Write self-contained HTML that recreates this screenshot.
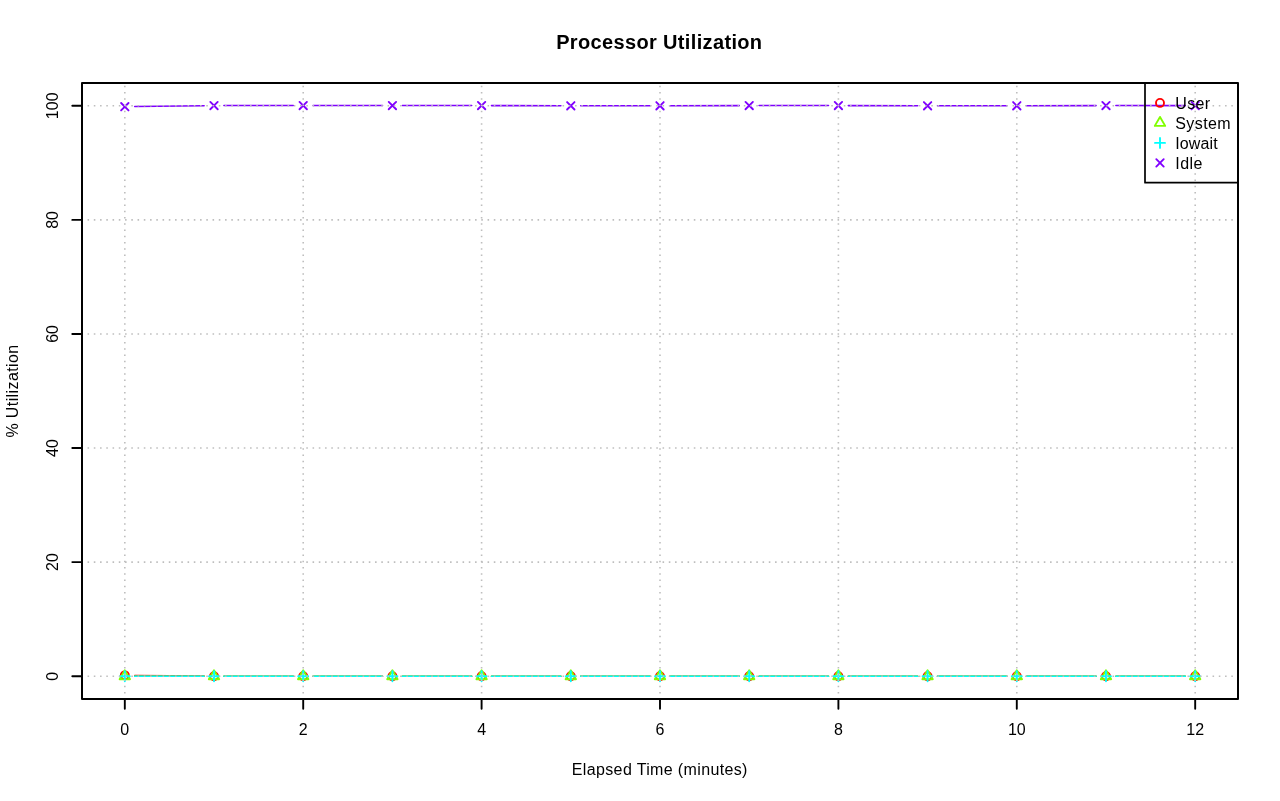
<!DOCTYPE html>
<html><head><meta charset="utf-8"><title>Processor Utilization</title>
<style>html,body{margin:0;padding:0;background:#fff;overflow:hidden}svg{display:block;will-change:transform}</style></head>
<body><svg width="1280" height="801" viewBox="0 0 1280 801"><path d="M134.71 675.42L204.11 676.09M223.91 676.19L293.31 676.19M313.11 676.19L382.51 676.19M402.31 676.19L471.70 676.19M491.50 676.19L560.90 676.19M580.70 676.19L650.10 676.19M669.90 676.19L739.30 676.19M759.10 676.19L828.50 676.19M848.30 676.19L917.69 676.19M937.49 676.19L1006.89 676.19M1026.69 676.19L1096.09 676.19M1115.89 676.19L1185.29 676.19" stroke="#FF0000" stroke-width="1.5625" stroke-linecap="round" fill="none"/>
<circle cx="124.81" cy="675.33" r="4.00" fill="none" stroke="#FF0000" stroke-width="1.9"/>
<circle cx="214.01" cy="676.19" r="4.00" fill="none" stroke="#FF0000" stroke-width="1.9"/>
<circle cx="303.21" cy="676.19" r="4.00" fill="none" stroke="#FF0000" stroke-width="1.9"/>
<circle cx="392.41" cy="676.19" r="4.00" fill="none" stroke="#FF0000" stroke-width="1.9"/>
<circle cx="481.60" cy="676.19" r="4.00" fill="none" stroke="#FF0000" stroke-width="1.9"/>
<circle cx="570.80" cy="676.19" r="4.00" fill="none" stroke="#FF0000" stroke-width="1.9"/>
<circle cx="660.00" cy="676.19" r="4.00" fill="none" stroke="#FF0000" stroke-width="1.9"/>
<circle cx="749.20" cy="676.19" r="4.00" fill="none" stroke="#FF0000" stroke-width="1.9"/>
<circle cx="838.40" cy="676.19" r="4.00" fill="none" stroke="#FF0000" stroke-width="1.9"/>
<circle cx="927.59" cy="676.19" r="4.00" fill="none" stroke="#FF0000" stroke-width="1.9"/>
<circle cx="1016.79" cy="676.19" r="4.00" fill="none" stroke="#FF0000" stroke-width="1.9"/>
<circle cx="1105.99" cy="676.19" r="4.00" fill="none" stroke="#FF0000" stroke-width="1.9"/>
<circle cx="1195.19" cy="676.19" r="4.00" fill="none" stroke="#FF0000" stroke-width="1.9"/>
<path d="M134.71 676.19L204.11 676.19M223.91 676.19L293.31 676.19M313.11 676.19L382.51 676.19M402.31 676.19L471.70 676.19M491.50 676.19L560.90 676.19M580.70 676.19L650.10 676.19M669.90 676.19L739.30 676.19M759.10 676.19L828.50 676.19M848.30 676.19L917.69 676.19M937.49 676.19L1006.89 676.19M1026.69 676.19L1096.09 676.19M1115.89 676.19L1185.29 676.19" stroke="#80FF00" stroke-width="1.5625" stroke-linecap="round" fill="none"/>
<path d="M124.81 670.20L130.00 679.18L119.63 679.18Z" fill="none" stroke="#80FF00" stroke-width="1.9" stroke-linejoin="round"/>
<path d="M214.01 670.20L219.20 679.18L208.83 679.18Z" fill="none" stroke="#80FF00" stroke-width="1.9" stroke-linejoin="round"/>
<path d="M303.21 670.20L308.40 679.18L298.02 679.18Z" fill="none" stroke="#80FF00" stroke-width="1.9" stroke-linejoin="round"/>
<path d="M392.41 670.20L397.59 679.18L387.22 679.18Z" fill="none" stroke="#80FF00" stroke-width="1.9" stroke-linejoin="round"/>
<path d="M481.60 670.20L486.79 679.18L476.42 679.18Z" fill="none" stroke="#80FF00" stroke-width="1.9" stroke-linejoin="round"/>
<path d="M570.80 670.20L575.99 679.18L565.62 679.18Z" fill="none" stroke="#80FF00" stroke-width="1.9" stroke-linejoin="round"/>
<path d="M660.00 670.20L665.19 679.18L654.81 679.18Z" fill="none" stroke="#80FF00" stroke-width="1.9" stroke-linejoin="round"/>
<path d="M749.20 670.20L754.38 679.18L744.01 679.18Z" fill="none" stroke="#80FF00" stroke-width="1.9" stroke-linejoin="round"/>
<path d="M838.40 670.20L843.58 679.18L833.21 679.18Z" fill="none" stroke="#80FF00" stroke-width="1.9" stroke-linejoin="round"/>
<path d="M927.59 670.20L932.78 679.18L922.41 679.18Z" fill="none" stroke="#80FF00" stroke-width="1.9" stroke-linejoin="round"/>
<path d="M1016.79 670.20L1021.98 679.18L1011.60 679.18Z" fill="none" stroke="#80FF00" stroke-width="1.9" stroke-linejoin="round"/>
<path d="M1105.99 670.20L1111.17 679.18L1100.80 679.18Z" fill="none" stroke="#80FF00" stroke-width="1.9" stroke-linejoin="round"/>
<path d="M1195.19 670.20L1200.37 679.18L1190.00 679.18Z" fill="none" stroke="#80FF00" stroke-width="1.9" stroke-linejoin="round"/>
<path d="M134.71 676.19L204.11 676.19M223.91 676.19L293.31 676.19M313.11 676.19L382.51 676.19M402.31 676.19L471.70 676.19M491.50 676.19L560.90 676.19M580.70 676.19L650.10 676.19M669.90 676.19L739.30 676.19M759.10 676.19L828.50 676.19M848.30 676.19L917.69 676.19M937.49 676.19L1006.89 676.19M1026.69 676.19L1096.09 676.19M1115.89 676.19L1185.29 676.19" stroke="#00FFFF" stroke-width="1.5625" stroke-linecap="round" fill="none"/>
<path d="M119.81 676.19H129.81M124.81 671.19V681.19" stroke="#00FFFF" stroke-width="1.9" stroke-linecap="round"/>
<path d="M209.01 676.19H219.01M214.01 671.19V681.19" stroke="#00FFFF" stroke-width="1.9" stroke-linecap="round"/>
<path d="M298.21 676.19H308.21M303.21 671.19V681.19" stroke="#00FFFF" stroke-width="1.9" stroke-linecap="round"/>
<path d="M387.41 676.19H397.41M392.41 671.19V681.19" stroke="#00FFFF" stroke-width="1.9" stroke-linecap="round"/>
<path d="M476.60 676.19H486.60M481.60 671.19V681.19" stroke="#00FFFF" stroke-width="1.9" stroke-linecap="round"/>
<path d="M565.80 676.19H575.80M570.80 671.19V681.19" stroke="#00FFFF" stroke-width="1.9" stroke-linecap="round"/>
<path d="M655.00 676.19H665.00M660.00 671.19V681.19" stroke="#00FFFF" stroke-width="1.9" stroke-linecap="round"/>
<path d="M744.20 676.19H754.20M749.20 671.19V681.19" stroke="#00FFFF" stroke-width="1.9" stroke-linecap="round"/>
<path d="M833.40 676.19H843.40M838.40 671.19V681.19" stroke="#00FFFF" stroke-width="1.9" stroke-linecap="round"/>
<path d="M922.59 676.19H932.59M927.59 671.19V681.19" stroke="#00FFFF" stroke-width="1.9" stroke-linecap="round"/>
<path d="M1011.79 676.19H1021.79M1016.79 671.19V681.19" stroke="#00FFFF" stroke-width="1.9" stroke-linecap="round"/>
<path d="M1100.99 676.19H1110.99M1105.99 671.19V681.19" stroke="#00FFFF" stroke-width="1.9" stroke-linecap="round"/>
<path d="M1190.19 676.19H1200.19M1195.19 671.19V681.19" stroke="#00FFFF" stroke-width="1.9" stroke-linecap="round"/>
<path d="M134.71 106.55L204.11 105.71M223.91 105.59L293.31 105.59M313.11 105.59L382.51 105.59M402.31 105.59L471.70 105.59M491.50 105.61L560.90 105.74M580.70 105.76L650.10 105.76M669.90 105.74L739.30 105.61M759.10 105.59L828.50 105.59M848.30 105.61L917.69 105.74M937.49 105.76L1006.89 105.76M1026.69 105.74L1096.09 105.61M1115.89 105.59L1185.29 105.64" stroke="#8000FF" stroke-width="1.5625" stroke-linecap="round" fill="none"/>
<path d="M121.11 102.97L128.51 110.37M121.11 110.37L128.51 102.97" stroke="#8000FF" stroke-width="1.9" stroke-linecap="round"/>
<path d="M210.31 101.89L217.71 109.29M210.31 109.29L217.71 101.89" stroke="#8000FF" stroke-width="1.9" stroke-linecap="round"/>
<path d="M299.51 101.89L306.91 109.29M299.51 109.29L306.91 101.89" stroke="#8000FF" stroke-width="1.9" stroke-linecap="round"/>
<path d="M388.71 101.89L396.11 109.29M388.71 109.29L396.11 101.89" stroke="#8000FF" stroke-width="1.9" stroke-linecap="round"/>
<path d="M477.90 101.89L485.30 109.29M477.90 109.29L485.30 101.89" stroke="#8000FF" stroke-width="1.9" stroke-linecap="round"/>
<path d="M567.10 102.06L574.50 109.46M567.10 109.46L574.50 102.06" stroke="#8000FF" stroke-width="1.9" stroke-linecap="round"/>
<path d="M656.30 102.06L663.70 109.46M656.30 109.46L663.70 102.06" stroke="#8000FF" stroke-width="1.9" stroke-linecap="round"/>
<path d="M745.50 101.89L752.90 109.29M745.50 109.29L752.90 101.89" stroke="#8000FF" stroke-width="1.9" stroke-linecap="round"/>
<path d="M834.70 101.89L842.10 109.29M834.70 109.29L842.10 101.89" stroke="#8000FF" stroke-width="1.9" stroke-linecap="round"/>
<path d="M923.89 102.06L931.29 109.46M923.89 109.46L931.29 102.06" stroke="#8000FF" stroke-width="1.9" stroke-linecap="round"/>
<path d="M1013.09 102.06L1020.49 109.46M1013.09 109.46L1020.49 102.06" stroke="#8000FF" stroke-width="1.9" stroke-linecap="round"/>
<path d="M1102.29 101.89L1109.69 109.29M1102.29 109.29L1109.69 101.89" stroke="#8000FF" stroke-width="1.9" stroke-linecap="round"/>
<path d="M1191.49 101.94L1198.89 109.34M1191.49 109.34L1198.89 101.94" stroke="#8000FF" stroke-width="1.9" stroke-linecap="round"/>
<g stroke="#BEBEBE" stroke-width="1.6" stroke-dasharray="1.5625 4.6875" stroke-dashoffset="0.7" fill="none"><path d="M124.81 699.0V83.0" /><path d="M303.21 699.0V83.0" /><path d="M481.60 699.0V83.0" /><path d="M660.00 699.0V83.0" /><path d="M838.40 699.0V83.0" /><path d="M1016.79 699.0V83.0" /><path d="M1195.19 699.0V83.0" /><path d="M82.0 676.19H1238.0" /><path d="M82.0 562.11H1238.0" /><path d="M82.0 448.04H1238.0" /><path d="M82.0 333.96H1238.0" /><path d="M82.0 219.89H1238.0" /><path d="M82.0 105.81H1238.0" /></g>
<rect x="82.0" y="83.0" width="1156.0" height="616.0" fill="none" stroke="#000" stroke-width="2.0" stroke-linejoin="round"/>
<path d="M124.81 699.0V708.7M303.21 699.0V708.7M481.60 699.0V708.7M660.00 699.0V708.7M838.40 699.0V708.7M1016.79 699.0V708.7M1195.19 699.0V708.7M82.0 676.19H72.3M82.0 562.11H72.3M82.0 448.04H72.3M82.0 333.96H72.3M82.0 219.89H72.3M82.0 105.81H72.3" stroke="#000" stroke-width="1.9" stroke-linecap="round" fill="none"/>
<g font-family="Liberation Sans, sans-serif" font-size="16" fill="#000"><text x="124.81" y="735" text-anchor="middle">0</text><text x="303.21" y="735" text-anchor="middle">2</text><text x="481.60" y="735" text-anchor="middle">4</text><text x="660.00" y="735" text-anchor="middle">6</text><text x="838.40" y="735" text-anchor="middle">8</text><text x="1016.79" y="735" text-anchor="middle">10</text><text x="1195.19" y="735" text-anchor="middle">12</text><text transform="translate(58.4 676.19) rotate(-90)" text-anchor="middle">0</text><text transform="translate(58.4 562.11) rotate(-90)" text-anchor="middle">20</text><text transform="translate(58.4 448.04) rotate(-90)" text-anchor="middle">40</text><text transform="translate(58.4 333.96) rotate(-90)" text-anchor="middle">60</text><text transform="translate(58.4 219.89) rotate(-90)" text-anchor="middle">80</text><text transform="translate(58.4 105.81) rotate(-90)" text-anchor="middle">100</text></g>
<text x="659.3" y="48.9" text-anchor="middle" font-family="Liberation Sans, sans-serif" font-size="20" font-weight="bold" letter-spacing="0.35">Processor Utilization</text>
<text x="659.8" y="774.7" text-anchor="middle" font-family="Liberation Sans, sans-serif" font-size="16" letter-spacing="0.36">Elapsed Time (minutes)</text>
<text transform="translate(18.2 391) rotate(-90)" text-anchor="middle" font-family="Liberation Sans, sans-serif" font-size="16" letter-spacing="0.4">% Utilization</text>
<path d="M1238.0 83.0H1145.0V182.7H1238.0" stroke="#000" stroke-width="1.7" fill="none" stroke-linejoin="round"/>
<circle cx="1160.00" cy="102.90" r="4.00" fill="none" stroke="#FF0000" stroke-width="1.9"/>
<text x="1175.3" y="108.80" font-family="Liberation Sans, sans-serif" font-size="16" letter-spacing="0.3">User</text>
<path d="M1160.00 116.91L1165.19 125.89L1154.81 125.89Z" fill="none" stroke="#80FF00" stroke-width="1.9" stroke-linejoin="round"/>
<text x="1175.3" y="128.80" font-family="Liberation Sans, sans-serif" font-size="16" letter-spacing="0.4">System</text>
<path d="M1155.00 142.90H1165.00M1160.00 137.90V147.90" stroke="#00FFFF" stroke-width="1.9" stroke-linecap="round"/>
<text x="1175.3" y="148.80" font-family="Liberation Sans, sans-serif" font-size="16" letter-spacing="0.1">Iowait</text>
<path d="M1156.30 159.20L1163.70 166.60M1156.30 166.60L1163.70 159.20" stroke="#8000FF" stroke-width="1.9" stroke-linecap="round"/>
<text x="1175.3" y="168.80" font-family="Liberation Sans, sans-serif" font-size="16" letter-spacing="0.4">Idle</text></svg></body></html>
